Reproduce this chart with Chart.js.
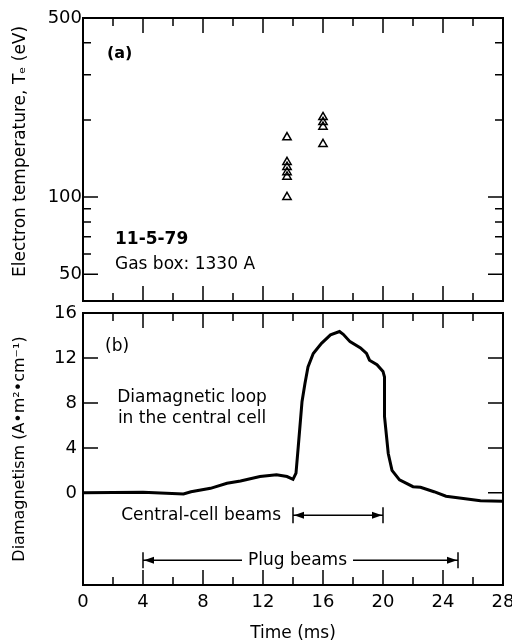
<!DOCTYPE html>
<html>
<head>
<meta charset="utf-8">
<script src="https://cdn.jsdelivr.net/npm/chart.js@4.4.1/dist/chart.umd.min.js"></script>
<style>
  body { margin: 0; background: #fff; width: 512px; height: 640px; position: relative; overflow: hidden; }
  #chartA { position: absolute; left: 0; top: 0; }
  #chartB { position: absolute; left: 0; top: 305px; }
</style>
</head>
<body>
<canvas id="chartA" width="512" height="310"></canvas>
<canvas id="chartB" width="512" height="335"></canvas>
<script>
// (a) electron temperature, triangles
const teTime   = [13.6, 13.6, 13.6, 13.6, 13.6, 13.6, 16.0, 16.0, 16.0, 16.0];
const teValues = [171, 137, 131, 125, 120, 100, 205, 196, 188, 161];
const teTickLabels = [50, 100, 500];
const teTickMarks  = [50, 60, 70, 80, 90, 100, 200, 300, 400];
const teTickMajor  = [50, 100];

// (b) diamagnetic loop signal
const timeMs = [0, 4.0, 6.7, 7.2, 8.5, 9.6, 10.5, 11.8, 12.9, 13.6, 14.0, 14.2, 14.35, 14.6, 14.8, 15.0, 15.35, 15.9, 16.5, 17.1, 17.35, 17.8, 18.5, 18.9, 19.1, 19.6, 20.0, 20.1, 20.1, 20.35, 20.6, 21.1, 22.0, 22.5, 23.4, 24.2, 25.1, 26.5, 28.0];
const diamag = [0.0, 0.05, -0.1, 0.1, 0.4, 0.85, 1.05, 1.45, 1.6, 1.45, 1.2, 1.75, 4.1, 8.1, 9.75, 11.2, 12.4, 13.3, 14.05, 14.35, 14.1, 13.45, 12.9, 12.4, 11.8, 11.4, 10.8, 10.3, 6.8, 3.5, 2.0, 1.15, 0.55, 0.5, 0.1, -0.3, -0.45, -0.7, -0.75];
const diaTickLabels = [0, 4, 8, 12, 16];

// shared time axis
const timeTickLabels = [0, 4, 8, 12, 16, 20, 24, 28];
const timeTickMarks  = [2, 4, 6, 8, 10, 12, 14, 16, 18, 20, 22, 24, 26];

// beam on-times
const beamNames = ['Central-cell beams', 'Plug beams'];
const beamStart = [14, 4];
const beamEnd   = [20, 25];
const beamLevel = [-2, -6];

const FONT = 'DejaVu Sans';

function makeFrame(id, yMarks, yMajor) {
  return {
    id: id,
    afterDatasetsDraw(chart) {
      const ctx = chart.ctx, a = chart.chartArea;
      const x = chart.scales.x, y = chart.scales.y;
      ctx.save();
      ctx.strokeStyle = '#000';
      ctx.lineWidth = 2;
      ctx.strokeRect(a.left, a.top, a.right - a.left, a.bottom - a.top);
      ctx.lineWidth = 1.5;
      ctx.beginPath();
      timeTickMarks.forEach(v => {
        const px = x.getPixelForValue(v);
        const len = v % 4 === 0 ? 15 : 8;
        ctx.moveTo(px, a.top); ctx.lineTo(px, a.top + len);
        ctx.moveTo(px, a.bottom); ctx.lineTo(px, a.bottom - len);
      });
      yMarks.forEach(v => {
        const py = y.getPixelForValue(v);
        const len = yMajor.includes(v) ? 15 : 8;
        ctx.moveTo(a.left, py); ctx.lineTo(a.left + len, py);
        ctx.moveTo(a.right, py); ctx.lineTo(a.right - len, py);
      });
      ctx.stroke();
      ctx.restore();
    }
  };
}

const notesA = {
  id: 'notesA',
  afterDraw(chart) {
    const ctx = chart.ctx, a = chart.chartArea;
    ctx.save();
    ctx.fillStyle = '#000';
    ctx.textBaseline = 'middle';
    ctx.textAlign = 'left';
    ctx.font = 'bold 16px ' + FONT;
    ctx.fillText('(a)', a.left + 24, a.top + 36);
    ctx.font = 'bold 17px ' + FONT;
    ctx.fillText('11-5-79', a.left + 32, 240);
    ctx.font = '17px ' + FONT;
    ctx.fillText('Gas box: 1330 A', a.left + 32, 265);
    ctx.restore();
  }
};

function arrowHead(ctx, px, py, dir) {
  ctx.beginPath();
  ctx.moveTo(px, py);
  ctx.lineTo(px - dir * 10, py - 3.5);
  ctx.lineTo(px - dir * 10, py + 3.5);
  ctx.closePath();
  ctx.fill();
}

const notesB = {
  id: 'notesB',
  afterDraw(chart) {
    const ctx = chart.ctx, a = chart.chartArea;
    const x = chart.scales.x, y = chart.scales.y;
    ctx.save();
    ctx.fillStyle = '#000';
    ctx.strokeStyle = '#000';
    ctx.textBaseline = 'middle';
    ctx.font = '17px ' + FONT;
    ctx.textAlign = 'left';
    ctx.fillText('(b)', a.left + 22, a.top + 34);
    ctx.textAlign = 'center';
    ctx.fillText('Diamagnetic loop', 192, a.top + 85);
    ctx.fillText('in the central cell', 192, a.top + 106);

    ctx.lineWidth = 1.5;
    beamNames.forEach((name, i) => {
      const x0 = x.getPixelForValue(beamStart[i]);
      const x1 = x.getPixelForValue(beamEnd[i]);
      const py = y.getPixelForValue(beamLevel[i]);
      ctx.beginPath();
      ctx.moveTo(x0, py - 8); ctx.lineTo(x0, py + 8);
      ctx.moveTo(x1, py - 8); ctx.lineTo(x1, py + 8);
      if (i === 0) {
        ctx.moveTo(x0, py); ctx.lineTo(x1, py);
        ctx.stroke();
        ctx.textAlign = 'right';
        ctx.fillText(name, x0 - 12, py);
      } else {
        const mid = (x0 + x1) / 2 - 3;
        const half = ctx.measureText(name).width / 2 + 6;
        ctx.moveTo(x0, py); ctx.lineTo(mid - half, py);
        ctx.moveTo(mid + half, py); ctx.lineTo(x1, py);
        ctx.stroke();
        ctx.textAlign = 'center';
        ctx.fillText(name, mid, py);
      }
      arrowHead(ctx, x0 + 1, py, -1);
      arrowHead(ctx, x1 - 1, py, 1);
    });
    ctx.restore();
  }
};

const tickFont = { family: FONT, size: 18 };

new Chart(document.getElementById('chartA'), {
  type: 'scatter',
  data: {
    datasets: [{
      data: teTime.map((t, i) => ({ x: t, y: teValues[i] })),
      pointStyle: 'triangle',
      pointRadius: 4.8,
      backgroundColor: 'rgba(0,0,0,0)',
      borderColor: '#000',
      borderWidth: 1.5
    }]
  },
  options: {
    responsive: false,
    animation: false,
    layout: { padding: { left: 0, right: 9, top: 18, bottom: 0 } },
    plugins: { legend: { display: false }, tooltip: { enabled: false } },
    scales: {
      x: {
        type: 'linear', min: 0, max: 28,
        grid: { display: false, drawTicks: false },
        border: { display: false },
        ticks: { display: false },
        afterFit: s => { s.height = 9; s.paddingLeft = 0; s.paddingRight = 0; }
      },
      y: {
        type: 'logarithmic', min: 39.3, max: 500,
        grid: { display: false, drawTicks: false },
        border: { display: false },
        ticks: { color: '#000', font: tickFont, padding: 1, autoSkip: false, callback: v => String(v) },
        afterBuildTicks: s => { s.ticks = teTickLabels.map(v => ({ value: v })); },
        afterFit: s => { s.width = 83; s.paddingTop = 0; s.paddingBottom = 0; },
        title: {
          display: true, text: '\u00a0\u00a0\u00a0Electron temperature, Tₑ (eV)', color: '#000',
          font: { family: FONT, size: 17, lineHeight: 1.2 }, padding: { top: 10, bottom: 0 }
        }
      }
    }
  },
  plugins: [makeFrame('frameA', teTickMarks, teTickMajor), notesA]
});

new Chart(document.getElementById('chartB'), {
  type: 'scatter',
  data: {
    datasets: [{
      data: timeMs.map((t, i) => ({ x: t, y: diamag[i] })),
      showLine: true,
      borderColor: '#000',
      borderWidth: 3,
      pointRadius: 0,
      tension: 0
    }]
  },
  options: {
    responsive: false,
    animation: false,
    layout: { padding: { left: 0, right: 9, top: 8, bottom: 0 } },
    plugins: { legend: { display: false }, tooltip: { enabled: false } },
    scales: {
      x: {
        type: 'linear', min: 0, max: 28,
        grid: { display: false, drawTicks: false },
        border: { display: false },
        ticks: { color: '#000', font: tickFont, padding: 7, autoSkip: false, maxRotation: 0 },
        afterBuildTicks: s => { s.ticks = timeTickLabels.map(v => ({ value: v })); },
        afterFit: s => { s.height = 55; s.paddingLeft = 0; s.paddingRight = 0; },
        title: {
          display: true, text: 'Time (ms)', color: '#000',
          font: { family: FONT, size: 17, lineHeight: 0.8 }, padding: { top: 0, bottom: 0 }
        }
      },
      y: {
        type: 'linear', min: -8.2, max: 16,
        grid: { display: false, drawTicks: false },
        border: { display: false },
        ticks: { color: '#000', font: tickFont, padding: 6, autoSkip: false },
        afterBuildTicks: s => { s.ticks = diaTickLabels.map(v => ({ value: v })); },
        afterFit: s => { s.width = 83; s.paddingTop = 0; s.paddingBottom = 0; },
        title: {
          display: true, text: 'Diamagnetism (A•m²•cm⁻¹)', color: '#000',
          font: { family: FONT, size: 16, lineHeight: 1.2 }, padding: { top: 10, bottom: 0 }
        }
      }
    }
  },
  plugins: [makeFrame('frameB', diaTickLabels.slice(0, 4), diaTickLabels), notesB]
});
</script>
</body>
</html>
